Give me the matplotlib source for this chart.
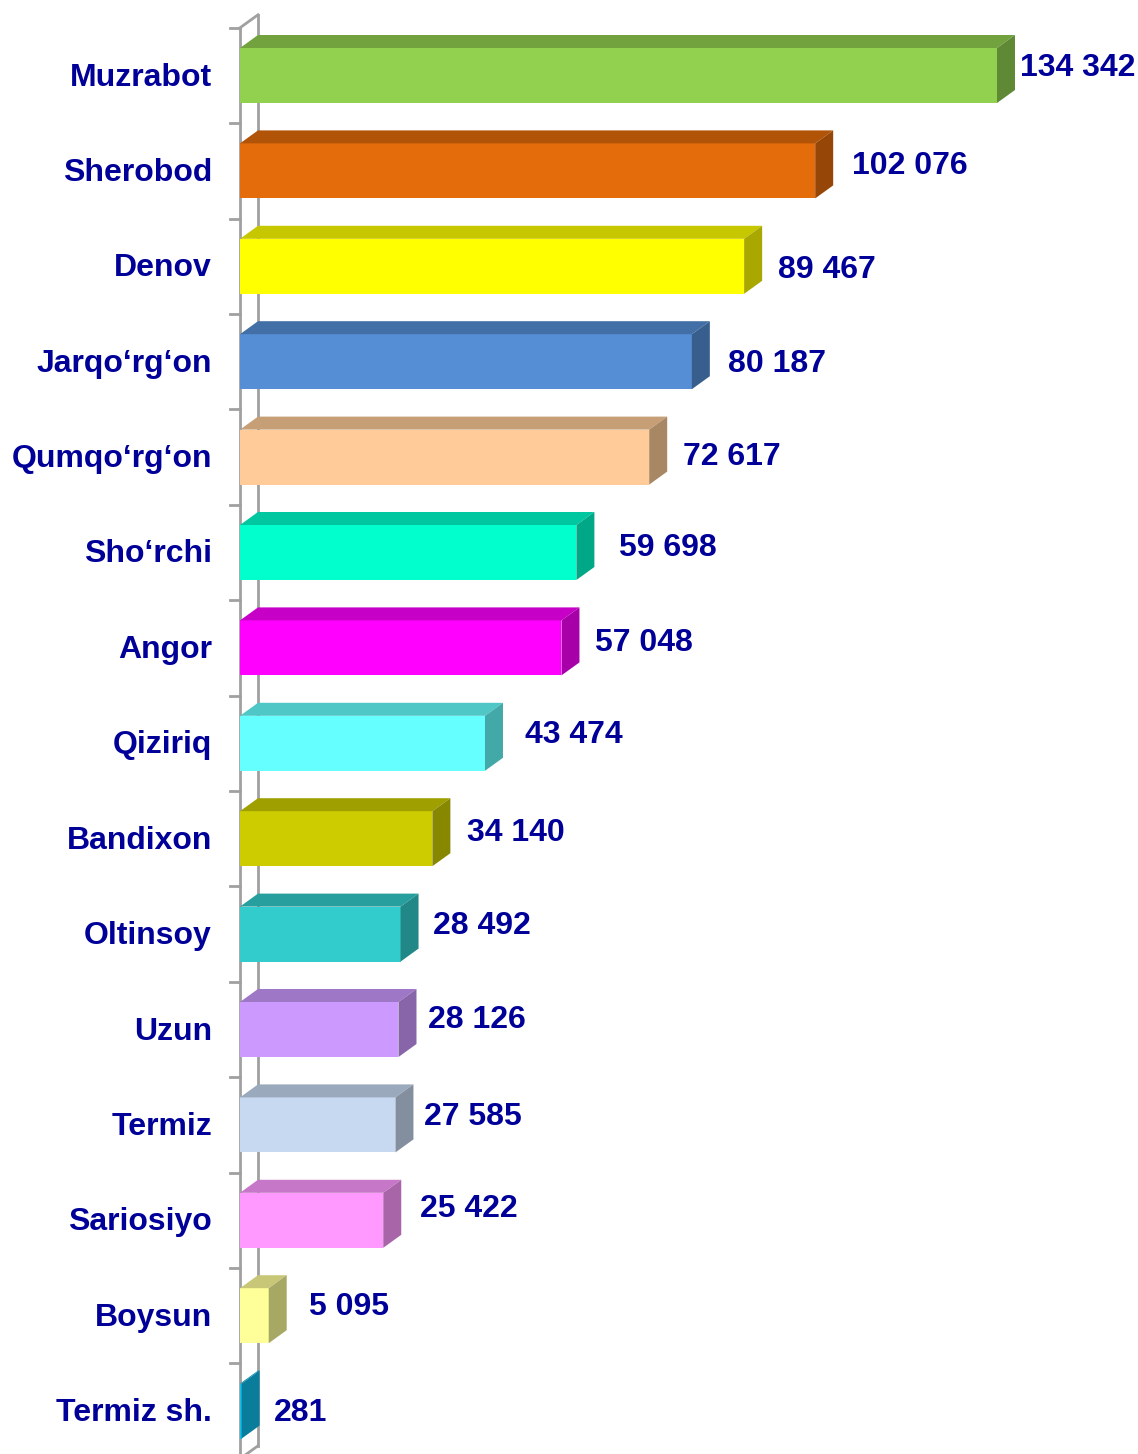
import matplotlib
matplotlib.use("Agg")
import matplotlib.pyplot as plt
from matplotlib.patches import Polygon
import matplotlib.colors as mcolors

# data
districts = ["Muzrabot", "Sherobod", "Denov", "Jarqo‘rg‘on", "Qumqo‘rg‘on",
             "Sho‘rchi", "Angor", "Qiziriq", "Bandixon", "Oltinsoy", "Uzun",
             "Termiz", "Sariosiyo", "Boysun", "Termiz sh."]
values = [134342, 102076, 89467, 80187, 72617, 59698, 57048, 43474,
          34140, 28492, 28126, 27585, 25422, 5095, 281]
colors = ["#92D050", "#E46C0A", "#FFFF00", "#558ED5", "#FFCC99", "#00FFCC",
          "#FF00FF", "#66FFFF", "#CCCC00", "#33CCCC", "#CC99FF", "#C6D9F1",
          "#FF99FF", "#FFFF99", "#10BEEC"]

# layout of value labels (pixels): gap after bar, vertical shift
label_gap = [5, 19, 16, 18, 16, 25, 16, 22, 17, 14, 12, 11, 19, 22, 14]
label_shift = [-9, -7, 2, 0, -2, -7, -7, -10, -8, -10, -12, -10, -13, -11, 0]

W, H = 1138, 1454
plt.rcParams['font.family'] = ['Liberation Sans', 'DejaVu Sans']

fig = plt.figure(figsize=(W / 100, H / 100), dpi=100)
ax = fig.add_axes([0, 0, 1, 1])

# pixel -> data scale (value 0 at px 240, 134342 at px 997)
upp = 134342 / (997 - 240)          # units per pixel (x)
step = 95.4                          # pixels per category
ax.set_xlim(-240 * upp, (W - 240) * upp)
ax.set_ylim((H - 75.5) / step, -75.5 / step)
ax.axis('off')

dx = 18 * upp       # depth offset
dy = -13 / step
h = 55 / step       # bar thickness

def shade(c, f):
    r, g, b = mcolors.to_rgb(c)
    return (r * f, g * f, b * f)

# wall
n = len(districts)
gray = "#A0A0A0"
y0, y1 = -0.5, n - 0.5
ax.plot([0, 0], [y0, y1 + 0.2], color=gray, lw=2, zorder=1)
ax.plot([dx, dx], [y0 + dy, y1 + dy], color=gray, lw=2, zorder=1)
ax.plot([0, dx], [y0, y0 + dy], color=gray, lw=2, zorder=1)
ax.plot([0, dx], [y1, y1 + dy], color=gray, lw=2, zorder=1)
for k in range(n + 1):
    ax.plot([-10 * upp, 0], [k - 0.5, k - 0.5], color=gray, lw=2, zorder=1)

# bars
for i, (name, v, c) in enumerate(zip(districts, values, colors)):
    t, b = i - h / 2, i + h / 2
    ax.add_patch(Polygon([(0, t), (v, t), (v, b), (0, b)], closed=True,
                         facecolor=c, edgecolor='none', zorder=3))
    ax.add_patch(Polygon([(0, t), (v, t), (v + dx, t + dy), (dx, t + dy)],
                         closed=True, facecolor=shade(c, 0.78),
                         edgecolor='none', zorder=3))
    ax.add_patch(Polygon([(v, t), (v, b), (v + dx, b + dy), (v + dx, t + dy)],
                         closed=True, facecolor=shade(c, 0.66),
                         edgecolor='none', zorder=3))
    ax.text(-28 * upp, i + 2 / step, name, ha='right', va='center',
            fontsize=23, fontweight='bold', color='#000099')
    ax.text(v + dx + label_gap[i] * upp, i + (label_shift[i] + 2) / step,
            f"{v:,}".replace(",", " "), ha='left', va='center', fontsize=23,
            fontweight='bold', color='#000099')

fig.savefig("out.png", dpi=100)
